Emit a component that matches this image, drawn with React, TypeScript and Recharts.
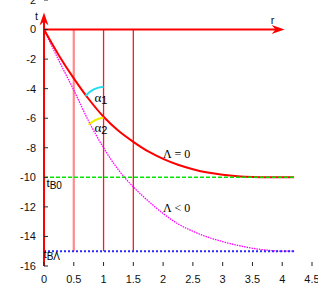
import { ComposedChart, Line, XAxis, YAxis, ReferenceLine, ReferenceDot } from "recharts"

const rValues = [0, 0.25, 0.5, 0.75, 1, 1.25, 1.5, 1.75, 2, 2.25, 2.5, 2.75, 3, 3.25, 3.5, 3.75, 4, 4.2]
// Λ = 0 (solid red)
const tLambdaZero = [0, -1.75, -3.3, -4.7, -5.9, -6.85, -7.6, -8.25, -8.75, -9.15, -9.45, -9.68, -9.83, -9.93, -9.98, -10, -10, -10]
// Λ < 0 (dotted magenta)
const tLambdaNeg = [0, -2.1, -4.1, -6.2, -8.0, -9.5, -10.65, -11.6, -12.45, -13.15, -13.65, -14.05, -14.35, -14.6, -14.8, -14.93, -15, -15]

const xTicks = [0, 0.5, 1, 1.5, 2, 2.5, 3, 3.5, 4, 4.5]
const yTicks = [-16, -14, -12, -10, -8, -6, -4, -2, 0, 2]

const tB0 = -10
const tBLambda = -15
const rEnd = 4.2
const markerR = [0.5, 1, 1.5]
const angleR = 1
const rArrowTip = 4.04
const tArrowTip = 1.15

const data = rValues.map((r, i) => ({ r, lam0: tLambdaZero[i], lamNeg: tLambdaNeg[i] }))

const tickStyle = { fontFamily: "Liberation Sans, Arial, sans-serif", fontSize: 11, fill: "#111" }

function Arrow({ x1, y1, x2, y2, label, lx, ly }: any) {
  const a = Math.atan2(y2 - y1, x2 - x1)
  const c = Math.cos(a)
  const s = Math.sin(a)
  const pt = (back: number, side: number) => `${x2 - back * c - side * s},${y2 - back * s + side * c}`
  return (
    <g>
      <line x1={x1} y1={y1} x2={x2 - 8 * c} y2={y2 - 8 * s} stroke="#ff0000" strokeWidth={2} />
      <polygon points={`${x2},${y2} ${pt(13, 4.5)} ${pt(9, 0)} ${pt(13, -4.5)}`} fill="#ff0000" />
      <text x={x2 + lx} y={y2 + ly} style={tickStyle} fontSize={12} textAnchor="middle">{label}</text>
    </g>
  )
}

function Arc({ cx, cy, color, dx, dy }: any) {
  return <path d={`M${cx},${cy - 30} A28,30 0 0 0 ${cx + dx},${cy + dy}`} fill="none" stroke={color} strokeWidth={2} />
}

function Label({ cx, cy, main, sub, dx, dy, size = 12, subSize = 9, subDy = 3, serif }: any) {
  return (
    <text x={cx + dx} y={cy + dy} fill="#000" fontSize={size}
      fontFamily={serif ? "Liberation Serif, Times New Roman, serif" : "Liberation Sans, Arial, sans-serif"}>
      <tspan>{main}</tspan>
      {sub ? <tspan dy={subDy} fontSize={subSize} fontFamily="Liberation Sans, Arial, sans-serif">{sub}</tspan> : null}
    </text>
  )
}

function VMark({ x1, y1, x2, y2, color, width }: any) {
  return <line x1={x1} y1={y1} x2={x2} y2={y2} stroke={color} strokeWidth={width} />
}

function HMark({ x1, y1, x2, y2, color, width, dash }: any) {
  return <line x1={x1} y1={y1} x2={x2} y2={y2} stroke={color} strokeWidth={width} strokeDasharray={dash} />
}

export default function App() {
  const i1 = rValues.indexOf(angleR)
  return (
    <div style={{ position: "absolute", left: 0, top: 0 }}>
      <ComposedChart width={318} height={292} data={data} margin={{ top: 0, right: 6, bottom: 0, left: 0 }}>
        <XAxis dataKey="r" type="number" domain={[0, 4.5]} ticks={xTicks} interval={0} height={26}
          axisLine={false} tickSize={-4} tickMargin={13} tick={tickStyle} tickLine={{ stroke: "#222" }} />
        <XAxis xAxisId="top" orientation="top" dataKey="r" type="number" domain={[0, 4.5]} ticks={xTicks}
          interval={0} height={0} axisLine={false} tickSize={-4} tickFormatter={() => ""} tickLine={{ stroke: "#222" }} />
        <YAxis type="number" domain={[-16, 2]} ticks={yTicks} interval={0} width={44}
          axisLine={false} tickSize={-4} tickMargin={12} tick={tickStyle} tickLine={{ stroke: "#222" }} />
        <YAxis yAxisId="right" orientation="right" type="number" domain={[-16, 2]} ticks={yTicks} interval={0}
          width={0} axisLine={false} tickSize={-4} tickFormatter={() => ""} tickLine={{ stroke: "#222" }} />

        {markerR.map((r, i) => (
          <ReferenceLine key={r} segment={[{ x: r, y: 0 }, { x: r, y: tBLambda }]}
            shape={(p: any) => <VMark {...p} color={i === 0 ? "#ff8a8a" : "#ff1a1a"} width={i === 0 ? 2.2 : 1.3} />} />
        ))}

        <Line dataKey="lamNeg" type="monotone" stroke="#ff00ff" strokeWidth={1.3} strokeDasharray="1.5 1"
          dot={false} isAnimationActive={false} />
        <Line dataKey="lam0" type="monotone" stroke="#ff0000" strokeWidth={2} dot={false} isAnimationActive={false} />

        <ReferenceLine segment={[{ x: 0, y: tB0 }, { x: rEnd, y: tB0 }]}
          shape={(p: any) => <HMark {...p} color="#00e600" width={1.5} dash="4 2" />} />
        <ReferenceLine segment={[{ x: 0, y: tBLambda }, { x: rEnd, y: tBLambda }]}
          shape={(p: any) => <HMark {...p} color="#2a2aff" width={2} dash="2 2" />} />

        <ReferenceLine segment={[{ x: 0, y: 0 }, { x: rArrowTip, y: 0 }]}
          shape={(p: any) => <Arrow {...p} label="r" lx={-12} ly={-6} />} />
        <ReferenceLine segment={[{ x: 0, y: -16 }, { x: 0, y: tArrowTip }]}
          shape={(p: any) => <Arrow {...p} label="t" lx={-7.5} ly={7} />} />

        <ReferenceDot x={angleR} y={tLambdaZero[i1]} r={0}
          shape={(p: any) => <Arc {...p} color="#22ddee" dx={-18} dy={-21} />} />
        <ReferenceDot x={angleR} y={tLambdaNeg[i1]} r={0}
          shape={(p: any) => <Arc {...p} color="#eeee00" dx={-15} dy={-23} />} />

        <ReferenceDot x={angleR} y={tLambdaZero[i1]} r={0}
          shape={(p: any) => <Label {...p} main="α" sub="1" dx={-9} dy={-14.5} size={13} subSize={11} subDy={2} serif />} />
        <ReferenceDot x={angleR} y={tLambdaNeg[i1]} r={0}
          shape={(p: any) => <Label {...p} main="α" sub="2" dx={-9} dy={-15.5} size={13} subSize={11} subDy={2} serif />} />

        <ReferenceDot x={2} y={-8.7} r={0} shape={(p: any) => <Label {...p} main="Λ = 0" dx={0} dy={0} size={12} serif />} />
        <ReferenceDot x={2} y={-12.35} r={0} shape={(p: any) => <Label {...p} main="Λ < 0" dx={0} dy={0} size={12} serif />} />

        <ReferenceDot x={0} y={tB0} r={0} shape={(p: any) => <Label {...p} main="t" sub="B0" dx={2.5} dy={9.5} size={11.5} subSize={10} subDy={2.5} />} />
        <ReferenceDot x={0} y={tBLambda} r={0} shape={(p: any) => <Label {...p} main="t" sub="BΛ" dx={-0.5} dy={7} size={11.5} subSize={10} subDy={2} />} />
      </ComposedChart>
    </div>
  )
}
